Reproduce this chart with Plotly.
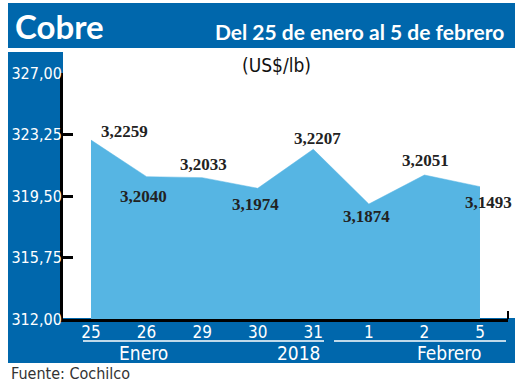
import plotly.graph_objects as go

# ---- data ----
dias = ["25", "26", "29", "30", "31", "1", "2", "5"]
precio_grafico = [322.91, 320.68, 320.62, 319.97, 322.35, 319.01, 320.78, 320.07]
etiquetas = ["3,2259", "3,2040", "3,2033", "3,1974", "3,2207", "3,1874", "3,2051", "3,1493"]
y_ticks = [312.00, 315.75, 319.50, 323.25, 327.00]
y_ticktext = ["312,00", "315,75", "319,50", "323,25", "327,00"]
meses = ["Enero", "2018", "Febrero"]

# label offsets (pixels) relative to the data points
lbl_dx = [33, -3, 1, -2, 4, -2, 1, 9]
lbl_dy = [9, -20, 13, -16, 11, -12, 15, -16]

W, H = 520, 390
L, R, T, B = 63, 12, 73, 71
PW = W - L - R
PH = H - T - B
BOTTOM = T + PH


def px(x):
    return (x - L) / PW


def py(y):
    return (BOTTOM - y) / PH


DARK = "#0067AC"
LIGHT = "#56B5E3"
NARROW = "Liberation Sans Narrow, DejaVu Sans Condensed, Roboto, sans-serif"
SERIF = "Liberation Serif, DejaVu Serif, serif"

xs = list(range(len(dias)))

fig = go.Figure()
fig.add_trace(go.Scatter(
    x=xs, y=precio_grafico, mode="lines", fill="tozeroy",
    fillcolor=LIGHT, line=dict(color=LIGHT, width=0.5),
    hoverinfo="skip", showlegend=False,
))

shapes = []
shapes.append(dict(type="rect", xref="paper", yref="paper", x0=px(8), x1=px(515),
                   y0=py(48), y1=py(3), fillcolor=DARK, line=dict(width=0), layer="below"))
shapes.append(dict(type="rect", xref="paper", yref="paper", x0=px(8), x1=px(63),
                   y0=py(363), y1=py(52), fillcolor=DARK, line=dict(width=0), layer="below"))
shapes.append(dict(type="rect", xref="paper", yref="paper", x0=px(8), x1=px(515),
                   y0=py(363), y1=py(318), fillcolor=DARK, line=dict(width=0), layer="below"))
shapes.append(dict(type="line", xref="paper", yref="paper", x0=px(83), x1=px(324),
                   y0=py(341), y1=py(341), line=dict(color="white", width=1.5)))
shapes.append(dict(type="line", xref="paper", yref="paper", x0=px(334), x1=px(506),
                   y0=py(341), y1=py(341), line=dict(color="white", width=1.5)))
shapes.append(dict(type="line", xref="paper", yref="paper", x0=px(508), x1=px(508),
                   y0=py(319), y1=py(311), line=dict(color="black", width=2)))

ann = []
ann.append(dict(text="<b>Cobre</b>", xref="paper", yref="paper", x=px(13), y=py(26),
                xanchor="left", yanchor="middle", showarrow=False,
                font=dict(family="Lato, Open Sans, sans-serif", size=33, color="white")))
ann.append(dict(text="<b>Del 25 de enero al 5 de febrero</b>", xref="paper", yref="paper",
                x=px(506), y=py(31), xanchor="right", yanchor="middle", showarrow=False,
                font=dict(family="Lato, Open Sans, sans-serif", size=21, color="white")))
ann.append(dict(text="(US$/lb)", xref="paper", yref="paper", x=px(276), y=py(65),
                xanchor="center", yanchor="middle", showarrow=False,
                font=dict(family=NARROW, size=19, color="#111111")))
ann.append(dict(text="Fuente: Cochilco", xref="paper", yref="paper", x=px(9), y=py(373),
                xanchor="left", yanchor="middle", showarrow=False,
                font=dict(family=NARROW, size=16, color="#333333")))
mes_x = [143, 299, 449]
for m, mx in zip(meses, mes_x):
    ann.append(dict(text=m, xref="paper", yref="paper", x=px(mx), y=py(353),
                    xanchor="center", yanchor="middle", showarrow=False,
                    font=dict(family=NARROW, size=19, color="white")))
for i, (lab, v) in enumerate(zip(etiquetas, precio_grafico)):
    ann.append(dict(text="<b>" + lab + "</b>", x=i, y=v, xref="x", yref="y",
                    xshift=lbl_dx[i], yshift=lbl_dy[i], showarrow=False,
                    xanchor="center", yanchor="middle",
                    font=dict(family=SERIF, size=17, color="#222222")))

fig.update_layout(
    width=W, height=H, margin=dict(l=L, r=R, t=T, b=B, pad=0, autoexpand=False),
    paper_bgcolor="white", plot_bgcolor="white",
    shapes=shapes, annotations=ann, showlegend=False,
    xaxis=dict(range=[-0.504, 7.504], tickvals=xs, ticktext=dias, showgrid=False,
               zeroline=False, showline=True, linecolor="black", linewidth=3,
               ticks="", automargin=False, ticklabelstandoff=-4,
               tickfont=dict(family=NARROW, size=17, color="white")),
    yaxis=dict(range=[312, 327], tickvals=y_ticks, ticktext=y_ticktext, showgrid=False,
               zeroline=False, showline=True, linecolor="black", linewidth=3,
               ticks="inside", ticklen=10, tickwidth=3, tickcolor="black",
               automargin=False, ticklabelstandoff=-5,
               tickfont=dict(family=NARROW, size=16, color="white")),
)

fig.write_html("out.html", config={"displayModeBar": False},
               post_script="document.body.style.margin='0';document.body.style.overflow='hidden';")
